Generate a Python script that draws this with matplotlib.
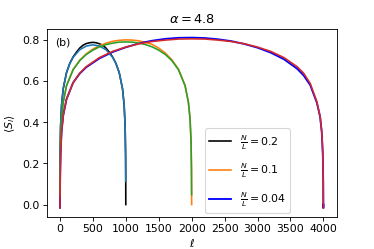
import matplotlib
matplotlib.use("Agg")
import matplotlib.pyplot as plt

# ---- data ----
# N/L = 0.2  (L = 1000)
x_02 = [0, 1, 3, 10, 25, 50, 100, 150, 200, 250, 300, 350, 400, 450, 500, 550, 600,
        650, 700, 750, 800, 850, 900, 950, 975, 990, 997, 999, 1000]
s_02 = [0.0, 0.113, 0.240, 0.378, 0.483, 0.563, 0.641, 0.686, 0.717, 0.740, 0.760,
        0.774, 0.782, 0.786, 0.788, 0.786, 0.781, 0.774, 0.760, 0.740, 0.717, 0.686,
        0.641, 0.563, 0.483, 0.378, 0.240, 0.113, 0.0]
fx_02 = [1, 3, 10, 25, 50, 100, 150, 200, 300, 400, 500, 600, 700, 800, 850, 900,
         950, 975, 990, 997, 999]
fs_02 = [0.113, 0.240, 0.378, 0.483, 0.563, 0.641, 0.685, 0.715, 0.752, 0.770, 0.776,
         0.770, 0.752, 0.715, 0.685, 0.641, 0.563, 0.483, 0.378, 0.240, 0.113]

# N/L = 0.1  (L = 2000)
x_01 = [0, 1, 3, 10, 25, 50, 100, 200, 300, 400, 500, 600, 700, 800, 900, 1000, 1100,
        1200, 1300, 1400, 1500, 1600, 1700, 1800, 1900, 1950, 1975, 1990, 1997, 1999, 2000]
s_01 = [0.0, 0.048, 0.174, 0.312, 0.418, 0.497, 0.578, 0.656, 0.701, 0.732, 0.755,
        0.772, 0.784, 0.793, 0.798, 0.800, 0.799, 0.795, 0.788, 0.778, 0.760, 0.736,
        0.703, 0.657, 0.578, 0.497, 0.418, 0.312, 0.174, 0.048, 0.0]
fx_01 = [1, 3, 10, 25, 50, 100, 200, 300, 400, 500, 600, 700, 800, 900, 1000, 1100,
         1200, 1300, 1400, 1500, 1600, 1700, 1800, 1900, 1950, 1975, 1990, 1997, 1999]
fs_01 = [0.048, 0.174, 0.312, 0.418, 0.497, 0.577, 0.655, 0.699, 0.729, 0.750, 0.766,
         0.777, 0.784, 0.789, 0.790, 0.789, 0.784, 0.777, 0.766, 0.750, 0.729, 0.699,
         0.655, 0.577, 0.497, 0.418, 0.312, 0.174, 0.048]

# N/L = 0.04  (L = 4000)
x_004 = [0, 1, 3, 10, 25, 50, 100, 200, 300, 400, 600, 800, 1000, 1200, 1400, 1600,
         1800, 2000, 2200, 2400, 2600, 2800, 3000, 3200, 3400, 3600, 3700, 3800, 3900,
         3950, 3975, 3990, 3997, 3999, 4000]
s_004 = [0.0, -0.017, 0.109, 0.248, 0.353, 0.433, 0.512, 0.592, 0.636, 0.667, 0.710,
         0.741, 0.764, 0.783, 0.796, 0.805, 0.810, 0.811, 0.809, 0.803, 0.794, 0.780,
         0.762, 0.738, 0.706, 0.660, 0.627, 0.580, 0.495, 0.425, 0.350, 0.248, 0.109,
         -0.017, 0.0]
fx_004 = [1, 3, 10, 25, 50, 100, 200, 300, 400, 600, 800, 1000, 1200, 1400, 1600, 1800,
          2000, 2200, 2400, 2600, 2800, 3000, 3200, 3400, 3600, 3700, 3800, 3900, 3950,
          3975, 3990, 3997, 3999]
fs_004 = [-0.017, 0.109, 0.248, 0.353, 0.433, 0.512, 0.592, 0.638, 0.670, 0.714, 0.744,
          0.765, 0.781, 0.792, 0.799, 0.804, 0.805, 0.804, 0.799, 0.792, 0.781, 0.765,
          0.744, 0.714, 0.670, 0.638, 0.588, 0.500, 0.428, 0.353, 0.248, 0.109, -0.017]

labels = [r'$\frac{N}{L}=0.2$', r'$\frac{N}{L}=0.1$', r'$\frac{N}{L}=0.04$']
xticks = [0, 500, 1000, 1500, 2000, 2500, 3000, 3500, 4000]
yticks = [0.0, 0.2, 0.4, 0.6, 0.8]

W = 4.8
fig, ax = plt.subplots(figsize=(W, W / 1.5), dpi=374 / W)
fig.subplots_adjust(left=0.125, right=0.9, bottom=0.13, top=0.882)

ax.plot(x_02, s_02, color='black', lw=1.5, label=labels[0])
ax.plot(x_01, s_01, color='tab:orange', lw=1.5, label=labels[1])
ax.plot(x_004, s_004, color='blue', lw=1.7, label=labels[2])
ax.plot(fx_02, fs_02, color='tab:blue', lw=1.5)
ax.plot(fx_01, fs_01, color='tab:green', lw=1.5)
ax.plot(fx_004, fs_004, color='tab:red', lw=1.5)

ax.set_xticks(xticks)
ax.set_yticks(yticks)
ax.set_title(r'$\alpha = 4.8$')
ax.set_xlabel(r'$\ell$', labelpad=2)
ax.set_ylabel(r'$\langle S_l \rangle$')
ax.text(0.03, 0.955, '(b)', transform=ax.transAxes, va='top', ha='left')
ax.legend(loc='lower left', bbox_to_anchor=(0.535, 0.0), borderaxespad=0.3,
          labelspacing=0.95)

fig.savefig('out.png', dpi=374 / W)
